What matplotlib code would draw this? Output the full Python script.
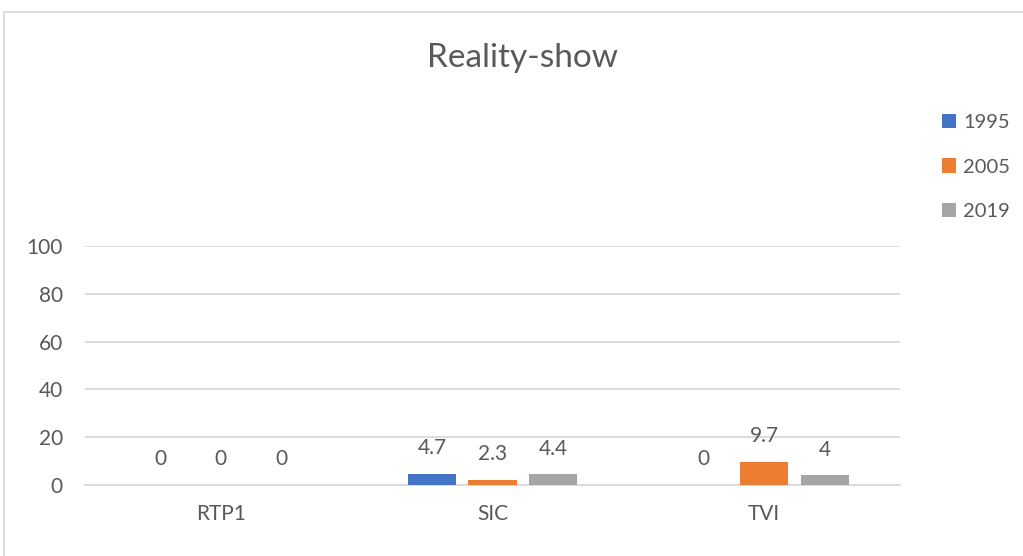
import matplotlib
matplotlib.use("Agg")
import matplotlib.pyplot as plt
from matplotlib.patches import Rectangle
import numpy as np

categories = ["RTP1", "SIC", "TVI"]
series_names = ["1995", "2005", "2019"]
v1995 = [0, 4.7, 0]
v2005 = [0, 2.3, 9.7]
v2019 = [0, 4.4, 4]
labels_1995 = ["0", "4.7", "0"]
labels_2005 = ["0", "2.3", "9.7"]
labels_2019 = ["0", "4.4", "4"]
yticks = [0, 20, 40, 60, 80, 100]

colors = ["#4472C4", "#ED7D31", "#A5A5A5"]
txt = "#595959"
plt.rcParams['font.family'] = ['Lato', 'DejaVu Sans']

fig = plt.figure(figsize=(10.23, 5.56), dpi=100)
ax = fig.add_axes([85/1023, 1-485/556, (900-85)/1023, (485-246)/556])

# chart frame
fig.patches.append(Rectangle((4/1023, -0.1), 1.2, 1-12/556+0.1, transform=fig.transFigure,
                             fill=False, edgecolor="#d9d9d9", linewidth=1.2))

x = np.arange(len(categories))
w = 0.177
off = 0.223
for i, (vals, labs) in enumerate([(v1995, labels_1995), (v2005, labels_2005), (v2019, labels_2019)]):
    xs = x + (i - 1) * off
    ax.bar(xs, vals, width=w, color=colors[i], label=series_names[i], zorder=3)
    for xx, v, l in zip(xs, vals, labs):
        ax.annotate(l, (xx, v), xytext=(0, 18.5), textcoords="offset points",
                    ha="center", va="center", fontsize=15, color=txt)

ax.set_xlim(-0.5, 2.5)
ax.set_ylim(0, 100)
ax.set_yticks(yticks)
ax.set_xticks(x)
ax.set_xticklabels(categories)
ax.grid(axis="y", color="#d9d9d9", linewidth=1.3, zorder=0)
for s in ["top", "right", "left"]:
    ax.spines[s].set_visible(False)
ax.spines["bottom"].set_color("#d9d9d9")
ax.spines["bottom"].set_linewidth(1.3)
ax.tick_params(axis="both", length=0, labelsize=15, labelcolor=txt)
ax.tick_params(axis="y", pad=16)
ax.tick_params(axis="x", pad=14)

fig.text(522/1023, 1-58/556, "Reality-show", ha="center", va="center", fontsize=24, color=txt)

leg = fig.legend(loc="upper left", bbox_to_anchor=(924/1023, 1-96/556), frameon=False,
                 fontsize=14.5, labelcolor=txt, handlelength=0.7, handleheight=0.7,
                 handletextpad=0.35, labelspacing=1.35)

fig.savefig("out.png", dpi=100)
